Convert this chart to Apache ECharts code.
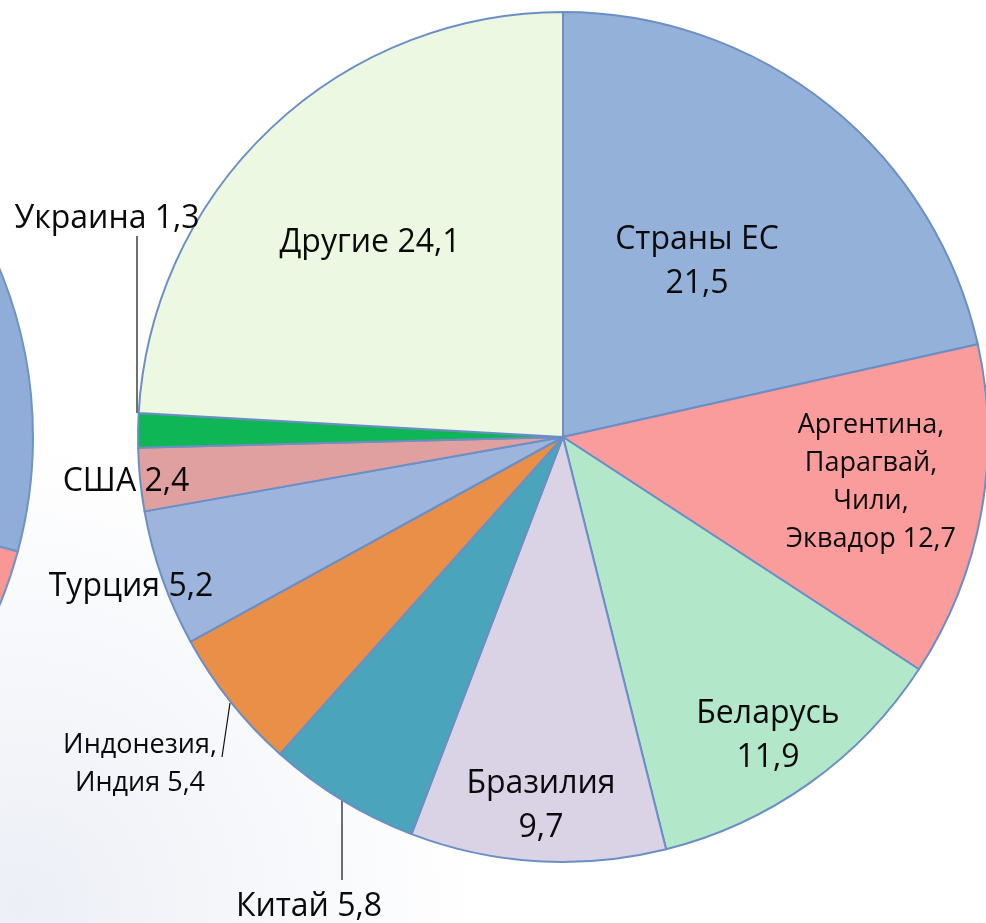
<!DOCTYPE html>
<html>
<head>
<meta charset="utf-8">
<script src="https://cdn.jsdelivr.net/npm/echarts@6/dist/echarts.min.js"></script>
<style>
  html, body { margin: 0; padding: 0; background: #fff; }
  #chart { width: 986px; height: 923px; }
</style>
</head>
<body>
<div id="chart"></div>
<script>
// main pie: import shares, %
const countries = [
  'Страны ЕС',
  'Аргентина,\nПарагвай,\nЧили,\nЭквадор',
  'Беларусь',
  'Бразилия',
  'Китай',
  'Индонезия,\nИндия',
  'Турция',
  'США',
  'Украина',
  'Другие',
]
const shares = [21.5, 12.7, 11.9, 9.7, 5.8, 5.4, 5.2, 2.4, 1.3, 24.1]
const valueOnNewLine = [true, false, true, true, false, false, false, false, false, false]
const colors = [
  '#93b1d9', '#fa9c9c', '#b3e7ca', '#dad3e6', '#4aa4bc',
  '#e98f47', '#9db4dc', '#dfa09f', '#0fb655', '#ecf8e1',
]

// neighbouring pie, only its right edge is in the picture
const otherPieValues = [29.2, 12, 58.8]
const otherPieColors = ['#8fadd8', '#f99797', '#dddddd']

// label centres (px) and leader lines
const labelPos = [
  [697, 262], [871, 482], [768, 736], [541, 806], [309, 907],
  [140, 764], [131, 587], [126, 482], [107, 219], [370, 243],
]
const leaderLines = {
  4: [[342, 800], [342, 880], [342, 880]],
  5: [[230, 703], [222, 757], [222, 757]],
  8: [[137, 413], [137, 236], [137, 236]],
}
const smallLabels = [1, 5]

const fmt = (v) => v.toFixed(1).replace('.', ',')

const myChart = echarts.init(document.getElementById('chart'), null, {
  width: 986,
  height: 923,
})

const option = {
  animation: false,
  backgroundColor: new echarts.graphic.RadialGradient(0.02, 0.98, 0.5, [
    { offset: 0, color: '#eceff6' },
    { offset: 1, color: '#ffffff' },
  ]),
  series: [
    {
      type: 'pie',
      silent: true,
      center: [-406, 437],
      radius: 439,
      startAngle: 90,
      label: { show: false },
      labelLine: { show: false },
      itemStyle: { borderColor: '#6f93c6', borderWidth: 2 },
      data: otherPieValues.map((v, i) => ({
        value: v,
        itemStyle: { color: otherPieColors[i] },
      })),
    },
    {
      type: 'pie',
      silent: true,
      center: [563, 437],
      radius: 425,
      startAngle: 90,
      clockwise: true,
      avoidLabelOverlap: false,
      itemStyle: { borderColor: '#6b8fc4', borderWidth: 2 },
      label: {
        position: 'inside',
        color: '#0a0a0a',
        fontFamily: 'Open Sans',
        fontSize: 32,
        lineHeight: 44,
        align: 'center',
        formatter: (p) =>
          p.name + (valueOnNewLine[p.dataIndex] ? '\n' : ' ') + fmt(p.value),
      },
      labelLine: { show: false },
      labelLayout: (params) => {
        const i = params.dataIndex
        const out = {
          x: labelPos[i][0],
          y: labelPos[i][1],
          align: 'center',
          verticalAlign: 'middle',
        }
        if (leaderLines[i]) out.labelLinePoints = leaderLines[i]
        return out
      },
      data: shares.map((v, i) => {
        const item = {
          name: countries[i],
          value: v,
          itemStyle: { color: colors[i] },
        }
        if (smallLabels.includes(i)) {
          item.label = { fontSize: 27, lineHeight: 38 }
        }
        if (leaderLines[i]) {
          item.label = Object.assign(item.label || {}, { position: 'outside' })
          item.labelLine = {
            show: true,
            length: 10,
            length2: 10,
            lineStyle: { color: '#111', width: 1.2 },
          }
        }
        return item
      }),
    },
  ],
}

option && myChart.setOption(option)
</script>
</body>
</html>
